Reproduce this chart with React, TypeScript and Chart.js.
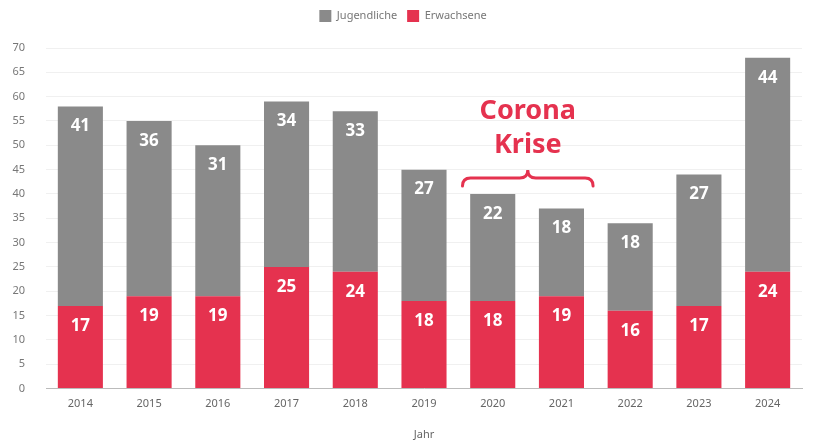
import React, { useEffect, useRef } from "react";
import { Chart, registerables } from "chart.js";

Chart.register(...registerables);

const years = ["2014", "2015", "2016", "2017", "2018", "2019", "2020", "2021", "2022", "2023", "2024"];
const erwachsene = [17, 19, 19, 25, 24, 18, 18, 19, 16, 17, 24];
const jugendliche = [41, 36, 31, 34, 33, 27, 22, 18, 18, 27, 44];
const annotationLines = ["Corona", "Krise"];
const braceFrom = 5.56;
const braceTo = 7.46;
const braceValue = 43.3;

const GRAY = "#8a8a8a";
const RED = "#e5324f";
const FONT = "'Noto Sans', Lato, sans-serif";

const labelPlugin = {
  id: "segLabels",
  afterDatasetsDraw(chart: any) {
    const ctx = chart.ctx;
    ctx.save();
    ctx.fillStyle = "#ffffff";
    ctx.font = `bold 17px ${FONT}`;
    ctx.textAlign = "center";
    ctx.textBaseline = "middle";
    chart.data.datasets.forEach((ds: any, di: number) => {
      const meta = chart.getDatasetMeta(di);
      meta.data.forEach((bar: any, i: number) => {
        ctx.fillText(String(ds.data[i]), bar.x, bar.y + 20);
      });
    });
    ctx.restore();
  },
};

const annotationPlugin = {
  id: "corona",
  afterDraw(chart: any) {
    const ctx = chart.ctx;
    const xs = chart.scales.x;
    const ys = chart.scales.y;
    const x1 = xs.getPixelForValue(braceFrom);
    const x2 = xs.getPixelForValue(braceTo);
    const xm = (x1 + x2) / 2;
    const y = ys.getPixelForValue(braceValue);
    ctx.save();
    ctx.fillStyle = RED;
    ctx.strokeStyle = RED;
    ctx.font = `bold 27px ${FONT}`;
    ctx.textAlign = "center";
    ctx.textBaseline = "middle";
    ctx.fillText(annotationLines[0], xm, ys.getPixelForValue(57.0));
    ctx.fillText(annotationLines[1], xm, ys.getPixelForValue(50.0));
    ctx.lineWidth = 3;
    ctx.lineCap = "round";
    ctx.beginPath();
    ctx.moveTo(x1, y + 8);
    ctx.quadraticCurveTo(x1, y, x1 + 8, y);
    ctx.lineTo(xm - 8, y);
    ctx.quadraticCurveTo(xm, y, xm, y - 8);
    ctx.quadraticCurveTo(xm, y, xm + 8, y);
    ctx.lineTo(x2 - 8, y);
    ctx.quadraticCurveTo(x2, y, x2, y + 8);
    ctx.stroke();
    ctx.restore();
  },
};

const legendSpacer = {
  id: "legendSpacer",
  beforeInit(chart: any) {
    const origFit = chart.legend.fit;
    chart.legend.fit = function () {
      origFit.bind(chart.legend)();
      this.height += 16;
    };
  },
};

export default function App() {
  const ref = useRef<HTMLCanvasElement>(null);
  useEffect(() => {
    const chart = new Chart(ref.current!, {
      type: "bar",
      data: {
        labels: years,
        datasets: [
          { label: "Jugendliche", data: jugendliche, backgroundColor: GRAY, stack: "s", order: 2 },
          { label: "Erwachsene", data: erwachsene, backgroundColor: RED, stack: "s", order: 1 },
        ],
      },
      options: {
        animation: false,
        responsive: true,
        maintainAspectRatio: false,
        layout: { padding: { left: 4, right: 14, top: 0, bottom: 0 } },
        datasets: { bar: { barPercentage: 0.82, categoryPercentage: 0.8 } },
        plugins: {
          legend: {
            labels: {
              boxWidth: 12,
              boxHeight: 12,
              font: { family: FONT, size: 11 },
              color: "#777",
              padding: 10,
              sort: (a: any, b: any) => a.datasetIndex - b.datasetIndex,
            },
          },
          tooltip: { enabled: false },
        },
        scales: {
          x: {
            stacked: true,
            grid: { display: false },
            border: { color: "#bbb" },
            ticks: { font: { family: FONT, size: 11 }, color: "#666", padding: 1 },
            title: { display: true, text: "Jahr", font: { family: FONT, size: 11 }, color: "#666", padding: { top: 16, bottom: 0 } },
          },
          y: {
            stacked: true,
            min: 0,
            max: 70,
            afterFit: (scale: any) => {
              scale.width = 42;
            },
            ticks: { stepSize: 5, font: { family: FONT, size: 11 }, color: "#777", padding: 21 },
            grid: { color: "#f0f0f0", drawTicks: false },
            border: { display: false },
          },
        },
      },
      plugins: [labelPlugin, annotationPlugin, legendSpacer],
    });
    return () => chart.destroy();
  }, []);
  return (
    <div style={{ position: "fixed", left: 0, top: 0, width: 816, height: 441, background: "#fff" }}>
      <canvas ref={ref} />
    </div>
  );
}
